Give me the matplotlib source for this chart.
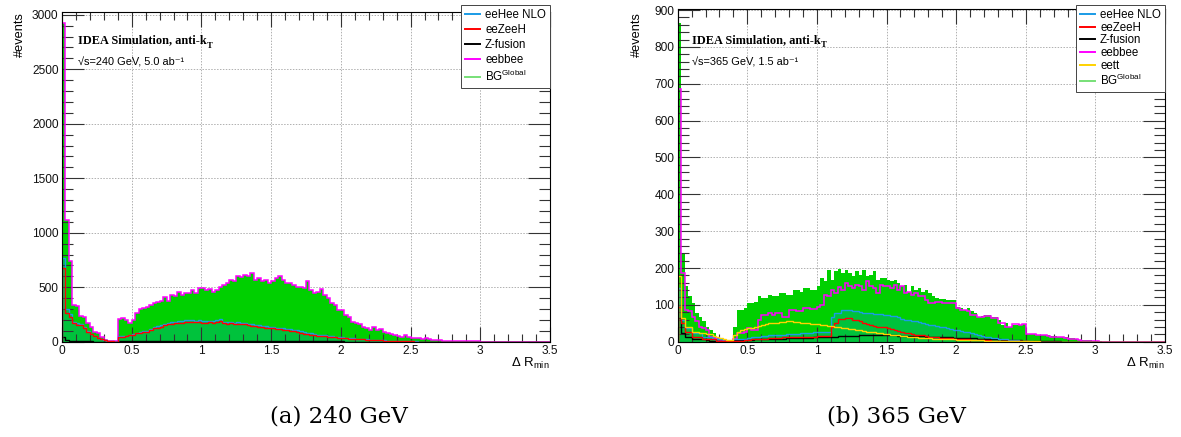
import numpy as np
import matplotlib
matplotlib.use("Agg")
import matplotlib.pyplot as plt
from matplotlib.ticker import MultipleLocator, FormatStrFormatter
from matplotlib.lines import Line2D

plt.rcParams["font.family"] = ["Liberation Sans", "DejaVu Sans"]

# --- Binning (Delta R_min, 0 .. 3.5) ---
N_BINS = 140
X_MAX = 3.5
EDGES = np.linspace(0, X_MAX, N_BINS + 1)


def pad(vals):
    """Empty bins after the last filled one."""
    return np.array(vals + [0] * (N_BINS - len(vals)), dtype=float)


# --- 240 GeV, 5.0 ab^-1 (events per bin) ---
bg_240 = pad([
    2920, 1120, 737, 338, 330, 240, 230, 170, 138, 92, 77, 46, 20, 10, 3, 2,
    205, 215, 200, 175, 200, 260, 300, 313, 322, 338, 353, 365,
    378, 408, 378, 430, 420, 460, 430, 451, 445, 475, 445, 491,
    491, 475, 485, 460, 475, 506, 522, 537, 568, 553, 599, 593,
    614, 599, 630, 568, 583, 553, 568, 537, 553, 583, 599, 568,
    543, 537, 522, 506, 500, 491, 553, 475, 445, 460, 482, 430,
    399, 353, 338, 292, 292, 245, 230, 184, 169, 163, 138, 123,
    107, 138, 107, 113, 92, 77, 70, 61, 52, 46, 61, 40,
    35, 31, 31, 28, 31, 21, 18, 15, 12, 9, 7, 6,
    6, 6, 5, 6, 4, 3, 3, 2, 1, 1])
# eebbee is the only background at 240 GeV: it traces BG^Global
eebbee_240 = pad([
    2920, 1120, 737, 338, 330, 240, 230, 170, 138, 92, 77, 46, 20, 10, 3, 2,
    205, 215, 200, 175, 200, 260, 300, 313, 322, 338, 353, 365,
    378, 408, 378, 430, 420, 460, 430, 451, 445, 475, 445, 491,
    491, 475, 485, 460, 475, 506, 522, 537, 568, 553, 599, 593,
    614, 599, 630, 568, 583, 553, 568, 537, 553, 583, 599, 568,
    543, 537, 522, 506, 500, 491, 553, 475, 445, 460, 482, 430,
    399, 353, 338, 292, 292, 245, 230, 184, 169, 163, 138, 123,
    107, 138, 107, 113, 92, 77, 70, 61, 52, 46, 61, 40,
    35, 31, 31, 28, 31, 21, 18, 15, 12, 9, 7, 6,
    6, 6, 5, 6, 4, 3, 3, 2, 1, 1])
eehee_240 = pad([
    768, 300, 250, 185, 170, 160, 135, 100, 75, 55, 35, 28, 17, 7, 3, 1,
    50, 52, 55, 66, 68, 84, 85, 100, 100, 118, 132, 140,
    150, 162, 176, 178, 183, 186, 190, 195, 200, 195, 192, 197,
    190, 186, 192, 190, 196, 208, 185, 180, 182, 175, 178, 172,
    175, 165, 160, 155, 152, 148, 140, 138, 135, 130, 127, 122,
    118, 112, 108, 105, 100, 90, 82, 78, 70, 66, 62, 58,
    54, 50, 47, 44, 40, 36, 34, 31, 29, 27, 25, 23,
    20, 18, 16, 14, 12, 11, 9, 8, 6, 5, 4, 3,
    2, 2, 1, 1])
eezeeh_240 = pad([
    675, 261, 230, 169, 155, 150, 123, 92, 70, 52, 31, 25, 15, 6, 3, 1,
    46, 46, 50, 61, 61, 77, 77, 92, 92, 110, 123, 128,
    138, 150, 163, 165, 169, 172, 175, 180, 184, 180, 178, 182,
    175, 172, 178, 175, 180, 193, 170, 165, 168, 160, 163, 158,
    160, 150, 145, 140, 138, 135, 128, 125, 123, 118, 115, 110,
    107, 100, 95, 90, 80, 72, 70, 62, 58, 55, 52, 48,
    45, 42, 40, 36, 33, 30, 28, 26, 24, 22, 21, 19,
    17, 15, 13, 12, 10, 9, 8, 6, 5, 4, 3, 3,
    2, 1, 1])
zfusion_240 = pad([
    46, 12, 8, 6, 5, 4, 3, 2, 2, 1, 1, 1, 0, 0, 0, 0,
    3, 3, 4, 4, 5, 5, 5, 6, 6, 6, 7, 7,
    7, 8, 8, 8, 8, 8, 8, 9, 9, 9, 9, 9,
    9, 9, 9, 9, 9, 9, 9, 9, 9, 8, 8, 8,
    8, 8, 8, 8, 7, 7, 7, 7, 6, 6, 6, 6,
    5, 5, 5, 5, 4, 4, 4, 4, 3, 3, 3, 3,
    2, 2, 2, 2, 2, 1, 1, 1, 1, 1, 1])

# --- 365 GeV, 1.5 ab^-1 ---
bg_365 = pad([
    866, 241, 152, 123, 105, 77, 68, 55, 41, 32, 23, 14, 8, 6, 3, 2,
    41, 86, 86, 91, 105, 105, 109, 123, 118, 118, 127, 123,
    123, 132, 132, 127, 127, 141, 141, 136, 145, 145, 141, 141,
    150, 173, 164, 195, 168, 191, 197, 186, 195, 186, 177, 191,
    182, 195, 177, 182, 191, 168, 173, 173, 168, 164, 168, 159,
    150, 155, 136, 150, 141, 145, 136, 141, 132, 123, 118, 115,
    115, 114, 114, 114, 95, 91, 86, 91, 82, 77, 68, 70,
    73, 73, 68, 68, 59, 45, 50, 41, 45, 45, 45, 47,
    21, 21, 21, 18, 18, 18, 18, 16, 16, 14, 14, 12,
    9, 9, 7, 5, 5, 5, 4, 2, 2, 1])
eebbee_365 = pad([
    687, 186, 86, 82, 68, 55, 41, 36, 32, 14, 10, 6, 4, 2, 2, 1,
    6, 23, 23, 27, 36, 32, 32, 59, 73, 73, 77, 73,
    77, 77, 68, 68, 86, 86, 82, 82, 91, 91, 88, 88,
    94, 100, 127, 123, 141, 132, 148, 141, 159, 150, 145, 155,
    150, 141, 164, 150, 145, 132, 155, 150, 150, 145, 155, 141,
    150, 132, 136, 127, 132, 123, 123, 114, 106, 106, 109, 109,
    105, 105, 105, 105, 91, 86, 86, 82, 73, 73, 68, 68,
    70, 70, 64, 64, 50, 50, 41, 41, 48, 48, 45, 47,
    21, 21, 21, 18, 18, 18, 16, 14, 14, 14, 12, 10,
    6, 6, 6, 4, 3, 3, 2, 2, 1])
eehee_365 = pad([
    145, 59, 36, 36, 23, 23, 23, 14, 14, 14, 6, 6, 6, 2, 2, 1,
    6, 6, 6, 8, 10, 12, 14, 14, 15, 16, 18, 18,
    18, 18, 19, 20, 20, 21, 22, 23, 23, 24, 24, 25,
    25, 26, 27, 27, 68, 77, 77, 86, 86, 86, 84, 82,
    80, 79, 78, 77, 76, 75, 74, 73, 73, 70, 69, 68,
    62, 60, 59, 57, 55, 53, 50, 47, 45, 44, 42, 41,
    40, 38, 35, 33, 32, 30, 27, 25, 23, 21, 18, 16,
    14, 12, 10, 9, 8, 7, 6, 5, 5, 4, 3, 2,
    2, 1])
eezeeh_365 = pad([
    93, 50, 27, 27, 14, 14, 14, 6, 6, 6, 6, 3, 3, 2, 1, 1,
    3, 3, 3, 4, 5, 6, 6, 6, 7, 8, 9, 10,
    10, 11, 12, 12, 13, 13, 14, 14, 14, 14, 14, 14,
    15, 15, 15, 15, 41, 50, 61, 61, 64, 64, 59, 59,
    55, 50, 48, 45, 43, 41, 41, 40, 38, 34, 32, 30,
    26, 24, 23, 21, 19, 18, 17, 15, 14, 13, 12, 11,
    10, 9, 9, 8, 7, 6, 6, 6, 5, 5, 4, 4,
    4, 4, 3, 3, 3, 3, 2, 2, 2, 2, 2, 1,
    1])
zfusion_365 = pad([
    64, 23, 14, 14, 6, 6, 6, 6, 5, 3, 3, 3, 3, 3, 3, 3,
    4, 4, 4, 4, 5, 5, 6, 6, 6, 6, 7, 7,
    8, 8, 8, 9, 9, 9, 10, 10, 10, 11, 11, 12,
    12, 13, 13, 14, 14, 14, 15, 15, 15, 16, 16, 16,
    17, 17, 17, 18, 18, 18, 18, 17, 17, 17, 17, 16,
    16, 16, 16, 15, 15, 15, 15, 14, 14, 14, 14, 13,
    13, 12, 12, 11, 11, 10, 10, 9, 9, 9, 8, 8,
    7, 7, 6, 6, 6, 5, 5, 5, 4, 4, 4, 3,
    3, 3, 2, 2, 2, 2, 1, 1, 1, 1])
eett_365 = pad([
    179, 64, 41, 41, 27, 27, 23, 23, 21, 21, 15, 12, 9, 7, 5, 4,
    18, 27, 32, 34, 36, 38, 41, 43, 45, 48, 50, 51,
    52, 53, 54, 55, 55, 54, 53, 52, 51, 50, 49, 48,
    47, 46, 44, 43, 42, 41, 39, 38, 36, 35, 34, 32,
    31, 29, 27, 26, 25, 24, 23, 22, 21, 19, 18, 17,
    16, 15, 14, 13, 12, 11, 10, 10, 9, 8, 8, 7,
    7, 6, 6, 6, 5, 5, 5, 5, 4, 4, 4, 4,
    3, 3, 3, 3, 3, 2, 2, 2, 2, 2, 1, 1,
    1, 1, 1, 1])

# --- Style ---
C_BG = "#00d000"
C_SIG_FILL = "#00c23c"
C_BLUE = "#1a9be6"
C_RED = "#ff0000"
C_BLACK = "#000000"
C_MAGENTA = "#ff00ff"
C_YELLOW = "#ffd200"
C_BG_LEG = "#77e077"
GRID_COLOR = "#b0b0b0"

FIG_W, FIG_H = 1181, 437
TICK_FS = 8.6
LEG_FS = 8.3


def fig_box(x0, x1, ytop, ybot):
    """pixel box -> figure fraction [l, b, w, h]"""
    return [x0 / FIG_W, 1 - ybot / FIG_H, (x1 - x0) / FIG_W, (ybot - ytop) / FIG_H]


def draw_panel(fig, ax, series, ymax, ystep, legend_entries, leg_box, legend_spacing,
               energy_text, label_pos):
    bg, sig_fill, lines = series

    ax.stairs(bg, EDGES, fill=True, color=C_BG, lw=0, zorder=1)
    ax.stairs(sig_fill, EDGES, fill=True, color=C_SIG_FILL, lw=0, zorder=1.1)
    for vals, col, lw in lines:
        ax.stairs(vals, EDGES, color=col, lw=lw, zorder=2)

    ax.set_xlim(0, X_MAX)
    ax.set_ylim(0, ymax)

    # dotted grid under the histograms
    for xv in np.arange(0.5, X_MAX, 0.5):
        ax.axvline(xv, color=GRID_COLOR, lw=0.7, ls=(0, (1.5, 1.5)), zorder=0)
    for yv in np.arange(ystep, ymax, ystep):
        ax.axhline(yv, color=GRID_COLOR, lw=0.7, ls=(0, (1.5, 1.5)), zorder=0)

    ax.xaxis.set_major_locator(MultipleLocator(0.5))
    ax.xaxis.set_minor_locator(MultipleLocator(0.1))
    ax.xaxis.set_major_formatter(FormatStrFormatter("%g"))
    ax.yaxis.set_major_locator(MultipleLocator(ystep))
    ax.yaxis.set_minor_locator(MultipleLocator(ystep / 5))
    ax.tick_params(which="both", direction="in", top=True, right=True,
                   width=0.8, color="#333333", labelsize=TICK_FS, labelcolor="#111111")
    ax.tick_params(axis="x", which="major", length=11, pad=2.5)
    ax.tick_params(axis="x", which="minor", length=5.5)
    ax.tick_params(axis="y", which="major", length=16, pad=2.5)
    ax.tick_params(axis="y", which="minor", length=8)
    for sp in ax.spines.values():
        sp.set_linewidth(0.8)
        sp.set_zorder(3)

    handles = [Line2D([0], [0], color=c, lw=1.4) for _, c in legend_entries]
    labels = [t for t, _ in legend_entries]
    leg = ax.legend(handles, labels, loc="upper right",
                    bbox_to_anchor=(leg_box[0] / FIG_W, 1 - leg_box[1] / FIG_H),
                    bbox_transform=fig.transFigure, fancybox=False, framealpha=1,
                    edgecolor="#444444", fontsize=LEG_FS, handlelength=1.35,
                    handletextpad=0.4, labelspacing=legend_spacing,
                    borderpad=0.35, borderaxespad=0)
    leg.get_frame().set_linewidth(0.7)
    leg.set_zorder(5)

    # experiment labels
    tx, ty1, ty2 = label_pos
    t = ax.text(tx, ty1, "IDEA Simulation, anti-k", transform=ax.transAxes,
                fontfamily="Liberation Serif", fontweight="bold", fontsize=8.8,
                va="center", zorder=6)
    fig.canvas.draw()
    bb = t.get_window_extent()
    sx, sy = ax.transAxes.inverted().transform((bb.x1, bb.y0 + 0.5))
    ax.text(sx, sy, "T", transform=ax.transAxes, fontfamily="Liberation Serif",
            fontweight="bold", fontsize=6.2, va="center", zorder=6)
    ax.text(tx, ty2, energy_text, transform=ax.transAxes, fontsize=7.9,
            va="center", zorder=6)


fig = plt.figure(figsize=(FIG_W / 100, FIG_H / 100), dpi=100)

ax1 = fig.add_axes(fig_box(62, 550, 12, 341.7))
draw_panel(
    fig, ax1,
    (bg_240, eehee_240,
     [(eebbee_240, C_MAGENTA, 1.1), (zfusion_240, C_BLACK, 1.0),
      (eehee_240, C_BLUE, 1.0), (eezeeh_240, C_RED, 1.0)]),
    3025, 500,
    [("eeHee NLO", C_BLUE), ("eeZeeH", C_RED), ("Z-fusion", C_BLACK),
     ("eebbee", C_MAGENTA), ("BG$^{\\mathregular{Global}}$", C_BG_LEG)],
    (550, 5), 0.26,
    "\u221as=240 GeV, 5.0 ab\u207b\u00b9", (0.033, 0.915, 0.848))

ax2 = fig.add_axes(fig_box(677.7, 1165, 9, 341.7))
draw_panel(
    fig, ax2,
    (bg_365, eehee_365,
     [(eebbee_365, C_MAGENTA, 1.1), (zfusion_365, C_BLACK, 1.0),
      (eehee_365, C_BLUE, 1.0), (eezeeh_365, C_RED, 1.0),
      (eett_365, C_YELLOW, 1.0)]),
    903, 100,
    [("eeHee NLO", C_BLUE), ("eeZeeH", C_RED), ("Z-fusion", C_BLACK),
     ("eebbee", C_MAGENTA), ("eett", C_YELLOW),
     ("BG$^{\\mathregular{Global}}$", C_BG_LEG)],
    (1165, 5), 0.06,
    "\u221as=365 GeV, 1.5 ab\u207b\u00b9", (0.029, 0.907, 0.841))

# axis titles, ROOT style: y at the top, x at the right end
for xpx in (20, 637):
    fig.text(xpx / FIG_W, 1 - 12 / FIG_H, "#events", rotation=90, ha="center",
             va="top", fontsize=9.2)
for xpx in (550, 1165):
    fig.text(xpx / FIG_W, 1 - 363 / FIG_H, "\u0394 R$_{\\mathregular{min}}$",
             ha="right", va="center", fontsize=9.5)

# sub-captions
fig.text(339 / FIG_W, 1 - 417 / FIG_H, "(a) 240 GeV", ha="center", va="center",
         fontfamily="DejaVu Serif", fontsize=16.5)
fig.text(896 / FIG_W, 1 - 417 / FIG_H, "(b) 365 GeV", ha="center", va="center",
         fontfamily="DejaVu Serif", fontsize=16.5)

fig.savefig("out.png", dpi=100)
